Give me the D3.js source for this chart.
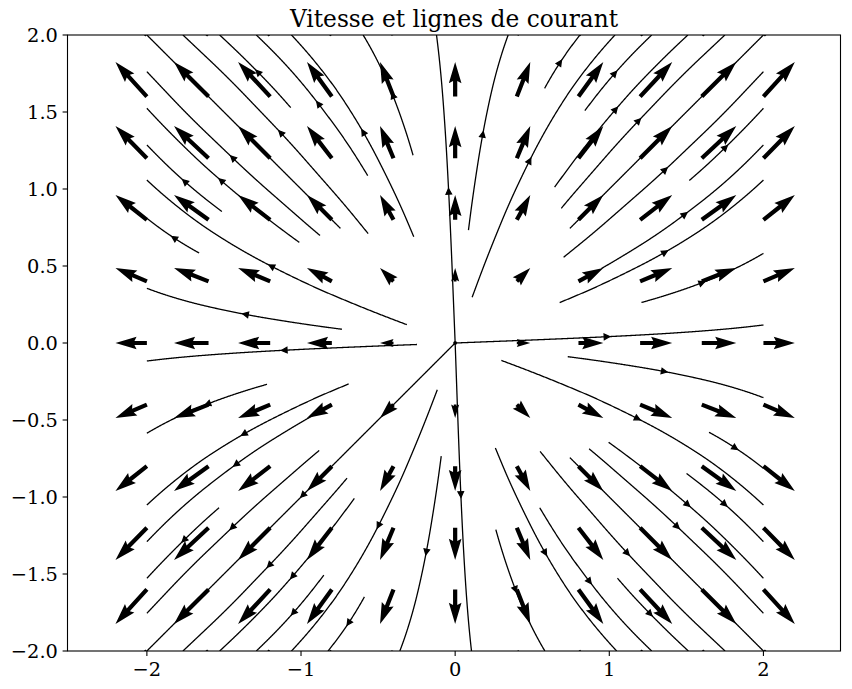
<!DOCTYPE html>
<html><head><meta charset="utf-8">
<script src="https://cdn.jsdelivr.net/npm/d3@7"></script>
<style>body{margin:0;background:#fff} svg{display:block}</style>
</head><body>
<script>
// ---------------- data ----------------
const gridX = [-2, -1.6, -1.2, -0.8, -0.4, 0, 0.4, 0.8, 1.2, 1.6, 2];
const gridY = [-2, -1.6, -1.2, -0.8, -0.4, 0, 0.4, 0.8, 1.2, 1.6, 2];
// horizontal velocity for each column, vertical velocity for each row
const uByColumn = [-0.91, -1.0, -0.93, -0.72, -0.39, 0, 0.39, 0.72, 0.93, 1.0, 0.91];
const vByRow    = [-0.91, -1.0, -0.93, -0.72, -0.39, 0, 0.39, 0.72, 0.93, 1.0, 0.91];

// streamlines: outer end (at the domain edge) and inner end, in data units
const streamOuter = [
  [0.344, 2], [0.81, 2], [1.037, 2], [1.275, 2], [1.51, 2], [1.75, 2], [2, 2],
  [2, 1.762], [2, 1.524], [2, 1.286], [2, 1.058], [2, 0.582], [2, 0.117],
  [-0.121, 2], [-0.597, 2], [-1.062, 2], [-1.29, 2], [-1.528, 2], [-1.766, 2], [-2, 2],
  [-2, 1.762], [-2, 1.524], [-2, 1.286], [-2, 1.058], [-2, 0.81], [-2, 0.355],
  [-2, -0.117], [-2, -0.586], [-2, -1.052], [-2, -1.29], [-2, -1.528], [-2, -1.755], [-2, -2],
  [-1.766, -2], [-1.528, -2], [-1.29, -2], [-1.062, -2], [-0.825, -2], [-0.359, -2],
  [0.106, -2], [0.582, -2], [1.048, -2], [1.275, -2], [1.513, -2], [1.751, -2], [2, -2],
  [2, -1.755], [2, -1.528], [2, -1.29], [2, -1.052], [2, -0.814], [2, -0.355]
];
const streamInner = [
  [0.084, 0.734], [0.582, 1.654], [0.11, 0.301], [0.841, 1.513], [0.646, 1.015], [0.691, 0.875], [0.745, 0.745],
  [0.701, 0.56], [1.513, 1.069], [0.951, 0.485], [0.68, 0.268], [1.21, 0.268], [0, 0],
  [0, 0], [-0.273, 1.221], [-0.273, 0.69], [-0.57, 1.09], [-1.074, 1.524], [-0.565, 0.712], [-0.749, 0.745],
  [-0.878, 0.701], [-1.009, 0.658], [-1.517, 0.853], [-0.316, 0.117], [-1.658, 0.593], [-0.738, 0.089],
  [-0.25, -0.0095], [-1.225, -0.266], [-0.693, -0.268], [-0.803, -0.403], [-1.539, -1.063], [-0.879, -0.706], [0, 0],
  [-0.705, -0.879], [-0.662, -1.008], [-0.857, -1.506], [-0.121, -0.305], [-0.597, -1.647], [-0.088, -0.738],
  [0, 0], [0.257, -1.214], [0.257, -0.684], [0.57, -1.06], [1.058, -1.528], [0.55, -0.706], [0.745, -0.749],
  [0.864, -0.695], [0.994, -0.651], [1.503, -0.846], [0.301, -0.117], [1.643, -0.593], [0.734, -0.089]
];

const xTicks = [-2, -1, 0, 1, 2];
const xTickLabels = ["\u22122", "\u22121", "0", "1", "2"];
const yTicks = [-2, -1.5, -1, -0.5, 0, 0.5, 1, 1.5, 2];
const yTickLabels = ["\u22122.0", "\u22121.5", "\u22121.0", "\u22120.5", "0.0", "0.5", "1.0", "1.5", "2.0"];
const titleText = "Vitesse et lignes de courant";

// ---------------- layout / style ----------------
const W = 852, H = 689;
const M = {left: 67.5, right: 840.5, top: 35, bottom: 651};
const FONT = "'DejaVu Serif', serif";
const TICK_FS = 19.4, TITLE_FS = 23.3;
const quiverScale = 0.224;   // data units of arrow length per unit of velocity
const shaftW = 4.22;         // quiver shaft width, px

const x = d3.scaleLinear().domain([-2.515, 2.5]).range([M.left, M.right]);
const y = d3.scaleLinear().domain([-2, 2]).range([M.bottom, M.top]);

const svg = d3.select("body").append("svg").attr("width", W).attr("height", H);
svg.append("rect").attr("width", W).attr("height", H).attr("fill", "#fff");
svg.append("defs").append("clipPath").attr("id", "clip").append("rect")
  .attr("x", M.left).attr("y", M.top).attr("width", M.right - M.left).attr("height", M.bottom - M.top);
const plot = svg.append("g").attr("clip-path", "url(#clip)");

// ---------------- field from the grid (bilinear, like streamplot) ----------------
const U = gridY.map(() => uByColumn.slice());
const V = vByRow.map(v => gridX.map(() => v));
function fieldAt(px, py) {
  const cx = Math.max(gridX[0], Math.min(gridX[gridX.length - 1], px));
  const cy = Math.max(gridY[0], Math.min(gridY[gridY.length - 1], py));
  let i = Math.max(0, Math.min(gridX.length - 2, d3.bisectRight(gridX, cx) - 1));
  let j = Math.max(0, Math.min(gridY.length - 2, d3.bisectRight(gridY, cy) - 1));
  const tx = (cx - gridX[i]) / (gridX[i + 1] - gridX[i]);
  const ty = (cy - gridY[j]) / (gridY[j + 1] - gridY[j]);
  const bl = (A) => (1 - tx) * (1 - ty) * A[j][i] + tx * (1 - ty) * A[j][i + 1] +
                    (1 - tx) * ty * A[j + 1][i] + tx * ty * A[j + 1][i + 1];
  return [bl(U), bl(V)];
}
function dirAt(p) {
  const [u, v] = fieldAt(p[0], p[1]);
  const m = Math.hypot(u, v);
  return m < 1e-12 ? [0, 0] : [u / m, v / m];
}
function trace(outer, inner) {
  const rIn = Math.hypot(inner[0], inner[1]);
  const ds = 0.004;
  let p = outer.slice();
  const pts = [p.slice()];
  for (let k = 0; k < 3000; k++) {
    const r = Math.hypot(p[0], p[1]);
    if (r <= rIn || r < ds) break;
    const d1 = dirAt(p);
    const mid = [p[0] - 0.5 * ds * d1[0], p[1] - 0.5 * ds * d1[1]];
    const d2 = dirAt(mid);
    p = [p[0] - ds * d2[0], p[1] - ds * d2[1]];
    pts.push(p.slice());
  }
  if (rIn === 0) pts.push([0, 0]);
  return pts.reverse();
}

// ---------------- streamlines ----------------
const line = d3.line().x(d => x(d[0])).y(d => y(d[1]));
const streams = streamOuter.map((o, k) => trace(o, streamInner[k]));
plot.append("g").selectAll("path").data(streams).join("path")
  .attr("d", line).attr("fill", "none").attr("stroke", "#000")
  .attr("stroke-width", 1.3).attr("stroke-linejoin", "round");

const arrowG = plot.append("g");
streams.forEach(pts => {
  const s = [0];
  for (let k = 1; k < pts.length; k++) s.push(s[k - 1] + Math.hypot(pts[k][0] - pts[k - 1][0], pts[k][1] - pts[k - 1][1]));
  let n = d3.bisectLeft(s, s[s.length - 1] / 2);
  n = Math.min(n, pts.length - 2);
  const X0 = x(pts[n][0]), Y0 = y(pts[n][1]);
  const X1 = x(pts[n + 1][0]), Y1 = y(pts[n + 1][1]);
  const a = Math.atan2(Y1 - Y0, X1 - X0) * 180 / Math.PI;
  arrowG.append("path")
    .attr("d", "M0,0L-5.6,-2.8L-5.6,2.8Z")
    .attr("transform", `translate(${X0},${Y0}) rotate(${a})`)
    .attr("fill", "#000").attr("stroke", "#000").attr("stroke-width", 1.2).attr("stroke-linejoin", "miter");
});

// ---------------- quiver ----------------
const quiverData = [];
gridY.forEach((gy, j) => gridX.forEach((gx, i) => quiverData.push({gx, gy, u: U[j][i], v: V[j][i]})));
const pxPerData = x(1) - x(0);
function arrowPath(d) {
  const Lpx = Math.hypot(d.u, d.v) * quiverScale * pxPerData;
  const L = Lpx / shaftW;
  let X, Y;
  if (L < 1) {
    X = []; Y = [];
    for (let k = 0; k < 7; k++) { X.push(0.5 * Math.cos(k * Math.PI / 3)); Y.push(0.5 * Math.sin(k * Math.PI / 3)); }
  } else if (L < 5) {
    const sh = L / 5;
    X = [0, 0.5, 0, 5, 0, 0.5, 0, 0].map(v => v * sh);
    Y = [0.5, 0.5, 1.5, 0, -1.5, -0.5, -0.5, 0.5].map(v => v * sh);
  } else {
    X = [0, L - 4.5, L - 5, L, L - 5, L - 4.5, 0, 0];
    Y = [0.5, 0.5, 1.5, 0, -1.5, -0.5, -0.5, 0.5];
  }
  return "M" + X.map((vx, k) => (vx * shaftW).toFixed(2) + "," + (Y[k] * shaftW).toFixed(2)).join("L") + "Z";
}
plot.append("g").selectAll("path").data(quiverData).join("path")
  .attr("d", arrowPath)
  .attr("transform", d => `translate(${x(d.gx)},${y(d.gy)}) rotate(${Math.atan2(-d.v, d.u) * 180 / Math.PI})`)
  .attr("fill", "#000").attr("stroke", "none");

// ---------------- axes ----------------
const axG = svg.append("g");
axG.append("rect").attr("x", M.left).attr("y", M.top).attr("width", M.right - M.left).attr("height", M.bottom - M.top)
  .attr("fill", "none").attr("stroke", "#000").attr("stroke-width", 1.1);
xTicks.forEach((t, k) => {
  axG.append("line").attr("x1", x(t)).attr("x2", x(t)).attr("y1", M.bottom).attr("y2", M.bottom + 4.9)
    .attr("stroke", "#000").attr("stroke-width", 1.1);
  axG.append("text").attr("x", x(t)).attr("y", M.bottom + 24.5).attr("text-anchor", "middle")
    .attr("font-family", FONT).attr("font-size", TICK_FS).attr("fill", "#000").text(xTickLabels[k]);
});
yTicks.forEach((t, k) => {
  axG.append("line").attr("x1", M.left - 4.9).attr("x2", M.left).attr("y1", y(t)).attr("y2", y(t))
    .attr("stroke", "#000").attr("stroke-width", 1.1);
  axG.append("text").attr("x", M.left - 9.6).attr("y", y(t) + 7).attr("text-anchor", "end")
    .attr("font-family", FONT).attr("font-size", TICK_FS).attr("fill", "#000").text(yTickLabels[k]);
});
svg.append("text").attr("x", (M.left + M.right) / 2).attr("y", 27).attr("text-anchor", "middle")
  .attr("font-family", FONT).attr("font-size", TITLE_FS).attr("fill", "#000").text(titleText);
</script>
</body></html>
